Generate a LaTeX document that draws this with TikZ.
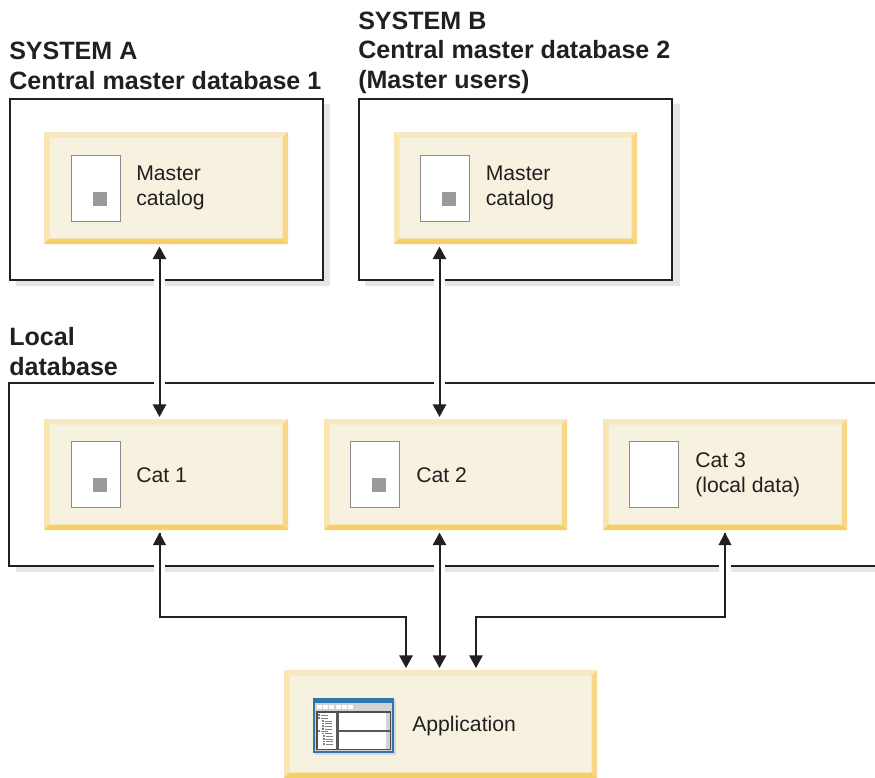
\documentclass[tikz,border=0pt]{standalone}
\usepackage{fontspec}
\setmainfont{Liberation Sans}
\usetikzlibrary{arrows.meta,calc}
\definecolor{cream}{HTML}{F7F2E0}
\definecolor{bevT}{HTML}{F6E8C3}
\definecolor{bevL}{HTML}{F9E5AE}
\definecolor{bevR}{HTML}{F8D786}
\definecolor{bevB}{HTML}{F7CE67}
\definecolor{shadowgrey}{HTML}{E6E6E6}
\definecolor{ink}{HTML}{231F20}
\definecolor{grsq}{HTML}{9A9A9A}
\definecolor{docline}{HTML}{8C8C8C}
\definecolor{winblue}{HTML}{2F75B0}
\definecolor{wingrey}{HTML}{D2D2D2}
\tikzset{
  x=0.75pt,y=-0.75pt,
  title/.style={anchor=north west,inner sep=0pt,font=\fontsize{18.8}{22.2}\selectfont\bfseries,text=ink,align=left},
  label/.style={anchor=west,inner sep=0pt,font=\fontsize{15.9}{18.8}\selectfont,text=ink,align=left},
  outer/.style={draw=ink,line width=1.5pt,fill=white,inner sep=0pt,anchor=north west},
  docbox/.style={draw=docline,line width=0.8pt,fill=white,inner sep=0pt,anchor=north west,minimum width=37pt,minimum height=49.5pt},
  grsquare/.style={fill=grsq,inner sep=0pt,minimum size=10.5pt,anchor=north west},
  yellow/.style={inner sep=0pt,anchor=north west,fill=cream},
  link/.style={draw=ink,line width=1.5pt},
  both/.style={link,{Triangle[length=9.5pt,width=10pt]}-{Triangle[length=9.5pt,width=10pt]}},
  head/.style={link,-{Triangle[length=9.5pt,width=10pt]}},
  halo/.style={draw=white,line width=8.5pt}
}
% \ybox{name}{x1}{y1}{x2}{y2}
\newcommand{\ybox}[5]{%
  \node[yellow,minimum width={(#4-#2)*0.75pt},minimum height={(#5-#3)*0.75pt}] (#1) at (#2,#3) {};
  \fill[bevT] (#2,#3) -- (#4,#3) -- (#4-5.5,#3+5.5) -- (#2+5.5,#3+5.5) -- cycle;
  \fill[bevL] (#2,#3) -- (#2+5.5,#3+5.5) -- (#2+5.5,#5-5.5) -- (#2,#5) -- cycle;
  \fill[bevR] (#4,#3) -- (#4,#5) -- (#4-5.5,#5-5.5) -- (#4-5.5,#3+5.5) -- cycle;
  \fill[bevB] (#2,#5) -- (#4,#5) -- (#4-5.5,#5-5.5) -- (#2+5.5,#5-5.5) -- cycle;
}
\begin{document}
\begin{tikzpicture}
\useasboundingbox (0,0) rectangle (875,778);
% outer boxes with shadows
\fill[shadowgrey] (15.5,104) rectangle (330,285.5);
\fill[shadowgrey] (364.5,104) rectangle (679.5,285.5);
\fill[shadowgrey] (15.5,389) rectangle (875,572);
\node[outer,minimum width=235pt,minimum height=135.5pt] (sysA) at (9,98) {};
\node[outer,minimum width=235pt,minimum height=135.5pt] (sysB) at (358,98) {};
\fill[white] (9,383) rectangle (875,566);
\coordinate (locNW) at (9,383);
\coordinate (locSW) at (9,566);
\coordinate (locNE) at (876,383);
\coordinate (locSE) at (876,566);
\draw[ink,line width=1.5pt] (locNE) -- (locNW) -- (locSW) -- (locSE);
% columns of the connectors
\coordinate (xa) at (159.5,0);
\coordinate (xb) at (439.5,0);
\coordinate (xc) at (725,0);
\coordinate (xl) at (406,0);
\coordinate (xr) at (476,0);
\coordinate (yl) at (0,617);
% gaps where connectors cross frame lines
\draw[halo] ($(xa|-sysA.south)+(0,-4)$) -- ($(xa|-sysA.south)+(0,9)$);
\draw[halo] ($(xb|-sysB.south)+(0,-4)$) -- ($(xb|-sysB.south)+(0,9)$);
\draw[halo] ($(xa|-locNW)+(0,-4)$) -- ($(xa|-locNW)+(0,4)$);
\draw[halo] ($(xb|-locNW)+(0,-4)$) -- ($(xb|-locNW)+(0,4)$);
\draw[halo] ($(xa|-locSW)+(0,-4)$) -- ($(xa|-locSW)+(0,9)$);
\draw[halo] ($(xb|-locSW)+(0,-4)$) -- ($(xb|-locSW)+(0,9)$);
\draw[halo] ($(xc|-locSW)+(0,-4)$) -- ($(xc|-locSW)+(0,9)$);
% yellow boxes
\ybox{mA}{44}{132}{288}{244}
\ybox{mB}{394}{132}{637}{244}
\ybox{c1}{44}{419}{288}{530}
\ybox{c2}{324}{419}{567}{530}
\ybox{c3}{603}{419}{847}{530}
\ybox{app}{284}{670}{597}{778}
% document icons
\node[docbox] (dA) at (71,155) {};
\node[grsquare] (sA) at (93,192) {};
\node[docbox] (dB) at (420,155) {};
\node[grsquare] (sB) at (442,192) {};
\node[docbox] (d1) at (71,441) {};
\node[grsquare] (s1) at (93,478) {};
\node[docbox] (d2) at (350,441) {};
\node[grsquare] (s2) at (372,478) {};
\node[docbox] (d3) at (629,441) {};
% application window icon
\fill[black!15] (315,700) rectangle (395.5,754.5);
\fill[winblue] (313,698) rectangle (394,753);
\fill[wingrey] (315,702.5) rectangle (391.5,751);
\foreach \wx in {317,323,329,336,342,348}{\fill[white] (\wx,705) rectangle (\wx+5,708.5);}
\fill[white] (317,712) rectangle (390,749.5);
\draw[ink!80,line width=0.8pt] (317,712) rectangle (390,749.5);
\fill[ink!75] (336,712) rectangle (338.5,749.5);
\fill[ink!75] (338.5,729.5) rectangle (390,731.5);
\fill[wingrey] (385.5,712.5) rectangle (389.5,729.5);
\fill[wingrey] (385.5,731.5) rectangle (389.5,749);
\foreach \ty/\tx in {715/318,718/318,721/322,723.5/322,726/322,729/322,731/318,733.5/322,736/323,739/323,741.5/323,744/323}{
  \fill[black!50] (\tx,\ty-.6) rectangle (\tx+2,\ty+.9);
  \fill[black!50] (\tx+2.5,\ty-.2) rectangle (\tx+10,\ty+.5);
}
% texts
\node[title] (tA) at (9,42) {SYSTEM A\\Central master database 1};
\node[title] (tB) at (358,11.5) {SYSTEM B\\Central master database 2\\(Master users)};
\node[title] (tL) at (9,327) {Local\\database};
\node[label] (lA) at (136,188) {Master\\catalog};
\node[label] (lB) at (485.5,188) {Master\\catalog};
\node[label] (l1) at (136,475) {Cat 1};
\node[label] (l2) at (416,475) {Cat 2};
\node[label] (l3) at (695,474.5) {Cat 3\\(local data)};
\node[label] (lapp) at (412,726) {Application};
% connectors
\draw[both] ($(xa|-mA.south)+(0,2)$) -- ($(xa|-c1.north)+(0,-2)$);
\draw[both] ($(xb|-mB.south)+(0,2)$) -- ($(xb|-c2.north)+(0,-2)$);
\draw[both] ($(xb|-c2.south)+(0,2)$) -- ($(xb|-app.north)+(0,-2)$);
\draw[head] (xa|-c1.south) ++(0,2) -- (xa|-yl) -- (xl|-yl) -- ($(xl|-app.north)+(0,-2)$);
\draw[head] (xc|-c3.south) ++(0,2) -- (xc|-yl) -- (xr|-yl) -- ($(xr|-app.north)+(0,-2)$);
\fill[ink] ($(xa|-c1.south)+(0,2)$) -- +(-6.6,12.6) -- +(6.6,12.6) -- cycle;
\fill[ink] ($(xc|-c3.south)+(0,2)$) -- +(-6.6,12.6) -- +(6.6,12.6) -- cycle;
\end{tikzpicture}
\end{document}
